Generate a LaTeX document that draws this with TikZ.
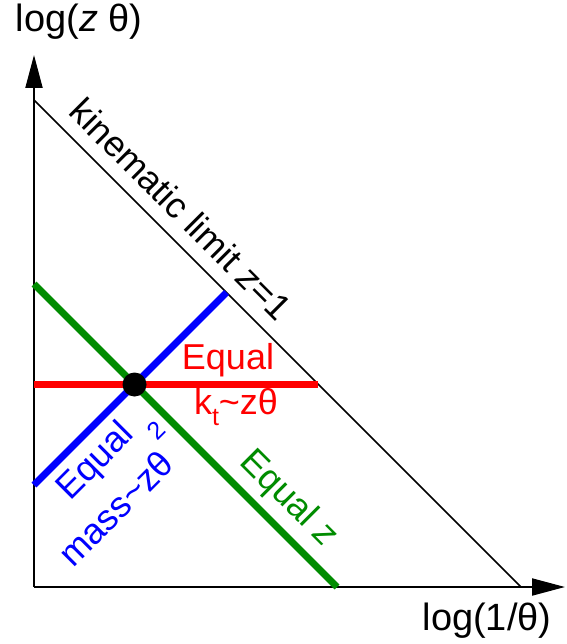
\documentclass[tikz,border=0pt]{standalone}
\usepackage{fontspec}
\setmainfont{Liberation Sans}
\usetikzlibrary{arrows.meta, calc}
\definecolor{eqgreen}{RGB}{0,140,0}

\begin{document}
\begin{tikzpicture}[x=1pt, y=-1pt,
every node/.style={inner sep=0pt, font=\fontsize{36}{40}\selectfont},
axislabel/.style={font=\fontsize{38}{42}\selectfont},
axis/.style={line width=2pt, -{Triangle[length=33pt, width=17pt]}},
limit/.style={line width=1.6pt},
equal/.style={line width=7pt}]
    \useasboundingbox (0,0) rectangle (566,644);
    \coordinate (O) at (34,587);
    \coordinate (ytip) at (34,55);
    \coordinate (xtip) at (565,587);
    \coordinate (klo) at (34,100);
    \coordinate (khi) at (521,587);
    \coordinate (zlo) at (34,284);
    \coordinate (zhi) at (337,587);
    \coordinate (mlo) at (34,485);
    \coordinate (mhi) at (intersection of mlo--{$(mlo)+(300,-300)$} and klo--khi);
    \coordinate (klft) at (34,384);
    \coordinate (krgt) at (intersection of klft--{$(klft)+(400,0)$} and klo--khi);

    \draw[axis] (O) -- (ytip);
    \draw[axis] (O) -- (xtip);
    \draw[limit] (klo) -- (khi);

    \draw[equal, eqgreen] (zlo) -- (zhi);
    \draw[equal, blue] (mlo) -- (mhi);
    \draw[equal, red] (klft) -- (krgt);
    \node[circle, fill=black, minimum size=24pt] (P) at (intersection of zlo--zhi and mlo--mhi) {};

    \node[axislabel] (ylabel) at (79,22) {log(\textit{z} θ)};
    \node[axislabel] (xlabel) at (487,621) {log(1/θ)};
    \node[rotate=-45] (klabel) at (181,209) {kinematic limit \textit{z}=1};
    \node[text=red] (eqk) at (228,360) {Equal};
    \node[text=red] (kt) at (236,407) {k\raisebox{-.3em}{\fontsize{25}{25}\selectfont t}\textasciitilde zθ};
    \node[text=blue, rotate=45] (eqm) at (96,462) {Equal};
    \node[text=blue, rotate=45, anchor=base] (mass) at (131,511) {mass\textasciitilde zθ\raisebox{.85em}{\fontsize{25}{25}\selectfont\,2}};
    \node[text=eqgreen, rotate=-45] (eqz) at (288,499) {Equal \textit{z}};
\end{tikzpicture}
\end{document}
